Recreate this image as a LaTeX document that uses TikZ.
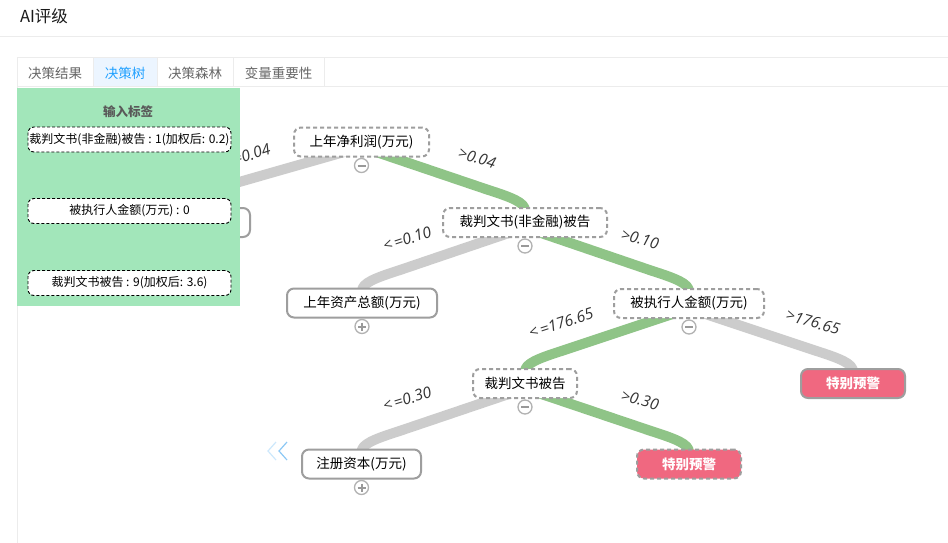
\documentclass[tikz,border=0pt]{standalone}
\usepackage{fontspec}
\setmainfont{Noto Sans CJK SC}
\newfontfamily\lblfont{Open Sans}
\usetikzlibrary{calc}
\pgfdeclarelayer{linklayer}
\pgfsetlayers{linklayer,main}
\definecolor{edgegreen}{RGB}{143,196,135}
\definecolor{edgegray}{RGB}{204,204,204}
\definecolor{bordergray}{RGB}{158,158,158}
\definecolor{pinkwarn}{RGB}{240,104,128}
\definecolor{panelgreen}{RGB}{162,230,186}
\definecolor{linegray}{RGB}{236,236,236}
\definecolor{tabblue}{RGB}{32,160,255}
\definecolor{tabbg}{RGB}{236,245,255}
\definecolor{tabtext}{RGB}{102,102,102}
\definecolor{chevlight}{RGB}{205,232,252}
\definecolor{chevblue}{RGB}{140,200,245}
\tikzset{
  treenode/.style={draw=bordergray, line width=2pt, rounded corners=7pt, fill=white,
    minimum height=29pt, inner sep=0pt, font=\fontsize{13.5}{16}\selectfont, text=black},
  dashnode/.style={treenode, dash pattern=on 4pt off 3pt},
  warnnode/.style={treenode, fill=pinkwarn, text=white, font=\fontsize{13.5}{16}\selectfont\bfseries},
  glink/.style={draw=edgegreen, line width=10pt, line join=round},
  ylink/.style={draw=edgegray, line width=10pt, line join=round},
  lbl/.style={font=\lblfont\itshape\fontsize{15.5}{18}\selectfont, text=black!80, inner sep=0pt},
  tog/.style={circle, draw=black!30, line width=1.3pt, minimum size=14pt, inner sep=0pt, fill=white},
  togbar/.style={draw=black!40, line width=2pt},
  inbox/.style={draw=black, line width=0.9pt, dash pattern=on 3pt off 2pt, rounded corners=6pt,
    fill=white, minimum width=203pt, minimum height=25pt, inner sep=0pt, font=\fontsize{12}{14}\selectfont},
  tabtxt/.style={font=\fontsize{13.5}{16}\selectfont, text=tabtext, inner sep=0pt},
  sepline/.style={draw=linegray, line width=1pt}
}
\newcommand\tlink[4]{\path[#4] ($(#1.center)+(0,5)$) -- ($(#2.center)+(#3*38,-33)$)
  .. controls ($(#2.center)+(#3*13,-25)$) and ($(#2.center)+(0,-20)$) .. ($(#2.center)+(0,-12)$) -- (#2.center);}
\begin{document}
\begin{tikzpicture}[x=1pt,y=-1pt]
\useasboundingbox (0,0) rectangle (948,543);
\begin{pgfonlayer}{linklayer}
\fill[white] (0,0) rectangle (948,543);
\end{pgfonlayer}
% header
\node[font=\fontsize{16.5}{19}\selectfont, text=black!90, inner sep=0pt] (title) at (44,16) {AI评级};
\path[sepline] (0,37) -- (948,37);
\fill[tabbg] (93,58) rectangle (157,87);
\path[sepline] (17,58) -- (948,58);
\path[sepline] (17,87) -- (948,87);
\path[sepline] (17,58) -- (17,543);
\foreach \xx in {93,157,233,324} { \path[sepline] (\xx,58) -- (\xx,87); }
\node[tabtxt] (tab1) at (55,73) {决策结果};
\node[tabtxt, text=tabblue] (tab2) at (125,73) {决策树};
\node[tabtxt] (tab3) at (195,73) {决策森林};
\node[tabtxt] (tab4) at (278.5,73) {变量重要性};
% tree nodes
\node[treenode, minimum width=150pt] (n0) at (175,222.5) {};
\node[dashnode, minimum width=135pt] (A) at (361.5,142) {上年净利润(万元)};
\node[dashnode, minimum width=164pt] (B) at (525,222.5) {裁判文书(非金融)被告};
\node[treenode, minimum width=150pt] (C) at (362,303) {上年资产总额(万元)};
\node[dashnode, minimum width=150pt] (D) at (689,303.5) {被执行人金额(万元)};
\node[dashnode, minimum width=104pt] (E) at (525,383.5) {裁判文书被告};
\node[warnnode, minimum width=104pt] (F) at (853,383.5) {特别预警};
\node[treenode, minimum width=119pt] (G) at (361.5,464) {注册资本(万元)};
\node[warnnode, dash pattern=on 4pt off 3pt, minimum width=104pt] (H) at (689,464) {特别预警};
% links beneath nodes
\begin{pgfonlayer}{linklayer}
\tlink{A}{n0}{1}{ylink}
\tlink{A}{B}{-1}{glink}
\tlink{B}{C}{1}{ylink}
\tlink{B}{D}{-1}{glink}
\tlink{D}{E}{1}{glink}
\tlink{D}{F}{-1}{ylink}
\tlink{E}{G}{1}{ylink}
\tlink{E}{H}{-1}{glink}
\end{pgfonlayer}
% toggles
\foreach \nn/\pm in {A/0,B/0,C/1,D/0,E/0,G/1} {
  \node[tog] (t\nn) at ($(\nn)+(0,23.5)$) {};
  \path[togbar] ($(t\nn)+(-4,0)$) -- ($(t\nn)+(4,0)$);
  \ifnum\pm=1 \path[togbar] ($(t\nn)+(0,-4)$) -- ($(t\nn)+(0,4)$); \fi
}
% labels
\node[lbl, rotate=18] (l0) at (246,156) {<\,=0.04};
\node[lbl, rotate=-17] (l1) at (477,158) {>0.04};
\node[lbl, rotate=18] (l2) at (407,239) {<\,=0.10};
\node[lbl, rotate=-15] (l3) at (640,239) {>0.10};
\node[lbl, rotate=18] (l4) at (561,323) {<\,=176.65};
\node[lbl, rotate=-16] (l5) at (813,322) {>176.65};
\node[lbl, rotate=17] (l6) at (407,399) {<\,=0.30};
\node[lbl, rotate=-15] (l7) at (640,400) {>0.30};
% chevrons
\draw[chevlight, line width=1.2pt] (276,442) -- (268,451) -- (276,460);
\draw[chevblue, line width=1.2pt] (287,442) -- (279,451) -- (287,460);
% input panel
\fill[panelgreen] (17,88) rectangle (240,306);
\node[font=\fontsize{12.5}{15}\selectfont\bfseries, text=black!65, inner sep=0pt] (ptitle) at (128,112) {输入标签};
\node[inbox] (in1) at (129.5,139.5) {裁判文书(非金融)被告 : 1(加权后: 0.2)};
\node[inbox] (in2) at (129.5,211) {被执行人金额(万元) : 0};
\node[inbox] (in3) at (129.5,283) {裁判文书被告 : 9(加权后: 3.6)};
\end{tikzpicture}
\end{document}
